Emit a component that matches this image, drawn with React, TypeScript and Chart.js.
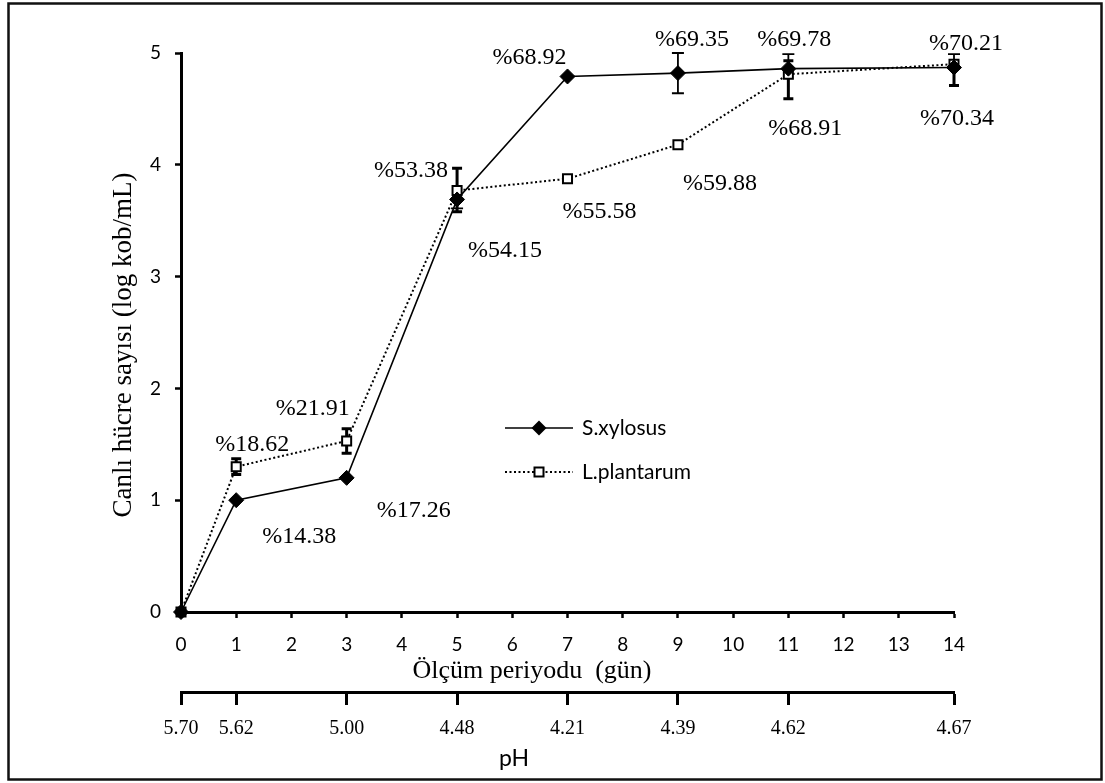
import React, { useEffect, useRef } from "react";
import { Chart, registerables } from "chart.js";

Chart.register(...registerables);

// ---- data ----
const days = [0, 1, 3, 5, 7, 9, 11, 14];
const phValues = ["5.70", "5.62", "5.00", "4.48", "4.21", "4.39", "4.62", "4.67"];

const sXylosus = [0, 1.0, 1.2, 3.69, 4.79, 4.82, 4.86, 4.87];
const lPlantarum = [0, 1.3, 1.53, 3.77, 3.875, 4.18, 4.81, 4.9];

const sXylosusErrPlus = [0, 0, 0, 0, 0, 0.18, 0.13, 0.12];
const sXylosusErrMinus = [0, 0, 0, 0.08, 0, 0.18, 0, 0];
const lPlantarumErrPlus = [0, 0.07, 0.11, 0.2, 0, 0, 0.12, 0];
const lPlantarumErrMinus = [0, 0.07, 0.11, 0.19, 0, 0, 0.22, 0.19];

const sXylosusLabels = ["", "%14.38", "%17.26", "%54.15", "%68.92", "%69.35", "%69.78", "%70.34"];
const lPlantarumLabels = ["", "%18.62", "%21.91", "%53.38", "%55.58", "%59.88", "%68.91", "%70.21"];

const yTicks = [0, 1, 2, 3, 4, 5];

// label offsets (px) from each point, layout only
const sXylosusLabelOffsets: [number, number][] = [
  [0, 0], [63, 37], [67, 33], [48, 51], [-38, -19], [14, -33], [6, -29], [3, 51],
];
const lPlantarumLabelOffsets: [number, number][] = [
  [0, 0], [16, -22], [-34, -32], [-46, -20], [32, 33], [42, 39], [17, 54], [12, -20],
];

const SERIF = "'Liberation Serif', 'Times New Roman', serif";
const SANS = "Lato, 'Noto Sans', sans-serif";

const overlayPlugin = {
  id: "overlay",
  beforeDatasetsDraw(chart: any) {
    const ctx = chart.ctx;
    const xs = chart.scales.x;
    const ys = chart.scales.y;
    const drawErr = (vals: number[], plus: number[], minus: number[], lw: number, cap: number) => {
      ctx.save();
      ctx.strokeStyle = "#000";
      ctx.lineWidth = lw;
      ctx.setLineDash([]);
      days.forEach((d, i) => {
        const px = xs.getPixelForValue(d);
        const py = ys.getPixelForValue(vals[i]);
        if (plus[i] > 0) {
          const pt = ys.getPixelForValue(vals[i] + plus[i]);
          ctx.beginPath();
          ctx.moveTo(px, py);
          ctx.lineTo(px, pt);
          ctx.moveTo(px - cap, pt);
          ctx.lineTo(px + cap, pt);
          ctx.stroke();
        }
        if (minus[i] > 0) {
          const pb = ys.getPixelForValue(vals[i] - minus[i]);
          ctx.beginPath();
          ctx.moveTo(px, py);
          ctx.lineTo(px, pb);
          ctx.moveTo(px - cap, pb);
          ctx.lineTo(px + cap, pb);
          ctx.stroke();
        }
      });
      ctx.restore();
    };
    drawErr(sXylosus, sXylosusErrPlus, sXylosusErrMinus, 1.8, 6);
    drawErr(lPlantarum, lPlantarumErrPlus, lPlantarumErrMinus, 3, 5);
  },
  afterDraw(chart: any) {
    const ctx = chart.ctx;
    const xs = chart.scales.x;
    const ys = chart.scales.y;
    ctx.save();
    // frame
    ctx.strokeStyle = "#111";
    ctx.lineWidth = 2.5;
    ctx.strokeRect(8.5, 3.5, 1093, 776);

    // data labels
    ctx.fillStyle = "#000";
    ctx.font = `24px ${SERIF}`;
    ctx.textAlign = "center";
    ctx.textBaseline = "middle";
    days.forEach((d, i) => {
      const px = xs.getPixelForValue(d);
      if (sXylosusLabels[i]) {
        const py = ys.getPixelForValue(sXylosus[i]);
        const [ox, oy] = sXylosusLabelOffsets[i];
        ctx.fillText(sXylosusLabels[i], px + ox, py + oy);
      }
      if (lPlantarumLabels[i]) {
        const py = ys.getPixelForValue(lPlantarum[i]);
        const [ox, oy] = lPlantarumLabelOffsets[i];
        ctx.fillText(lPlantarumLabels[i], px + ox, py + oy);
      }
    });

    // axis titles
    ctx.font = `26px ${SERIF}`;
    ctx.textBaseline = "alphabetic";
    ctx.fillText("Ölçüm periyodu  (gün)", 532, 678);

    ctx.save();
    ctx.translate(131, 345);
    ctx.rotate(-Math.PI / 2);
    ctx.font = `27px ${SERIF}`;
    ctx.fillText("Canlı hücre sayısı (log kob/mL)", 0, 0);
    ctx.restore();

    ctx.font = `23px ${SANS}`;
    ctx.fillText("pH", 514, 766);

    // legend
    const lx1 = 505, lx2 = 573, mx = 539;
    const ly1 = 428, ly2 = 472;
    ctx.strokeStyle = "#000";
    ctx.lineWidth = 1.5;
    ctx.setLineDash([]);
    ctx.beginPath();
    ctx.moveTo(lx1, ly1);
    ctx.lineTo(lx2, ly1);
    ctx.stroke();
    ctx.beginPath();
    ctx.moveTo(mx, ly1 - 7.5);
    ctx.lineTo(mx + 7.5, ly1);
    ctx.lineTo(mx, ly1 + 7.5);
    ctx.lineTo(mx - 7.5, ly1);
    ctx.closePath();
    ctx.fillStyle = "#000";
    ctx.fill();

    ctx.lineWidth = 2;
    ctx.setLineDash([2, 2.5]);
    ctx.beginPath();
    ctx.moveTo(lx1, ly2);
    ctx.lineTo(lx2, ly2);
    ctx.stroke();
    ctx.setLineDash([]);
    ctx.fillStyle = "#fff";
    ctx.fillRect(mx - 4.5, ly2 - 4.5, 9, 9);
    ctx.strokeRect(mx - 4.5, ly2 - 4.5, 9, 9);

    ctx.fillStyle = "#000";
    ctx.font = `21px ${SANS}`;
    ctx.textAlign = "left";
    ctx.textBaseline = "middle";
    ctx.fillText("S.xylosus", 582, ly1);
    ctx.fillText("L.plantarum", 582, ly2);
    ctx.restore();
  },
};

export default function App() {
  const ref = useRef<HTMLCanvasElement | null>(null);
  useEffect(() => {
    if (!ref.current) return;
    const chart = new Chart(ref.current, {
      type: "line",
      data: {
        datasets: [
          {
            label: "S.xylosus",
            data: days.map((d, i) => ({ x: d, y: sXylosus[i] })),
            borderColor: "#000",
            borderWidth: 1.6,
            pointStyle: "rectRot",
            pointRadius: 7.5,
            pointBackgroundColor: "#000",
            pointBorderColor: "#000",
            pointBorderWidth: 1,
            fill: false,
            tension: 0,
            clip: false,
          },
          {
            label: "L.plantarum",
            data: days.map((d, i) => ({ x: d, y: lPlantarum[i] })),
            borderColor: "#000",
            borderWidth: 2,
            borderDash: [2, 2.5],
            pointStyle: "rect",
            pointRadius: 6.4,
            pointBackgroundColor: "#fff",
            pointBorderColor: "#000",
            pointBorderWidth: 2,
            fill: false,
            tension: 0,
            clip: false,
          },
        ],
      },
      options: {
        animation: false,
        responsive: false,
        maintainAspectRatio: false,
        devicePixelRatio: 1,
        layout: { padding: { left: 0, top: 53, right: 151, bottom: 0 } },
        plugins: { legend: { display: false }, tooltip: { enabled: false } },
        scales: {
          x: {
            type: "linear",
            position: "bottom",
            weight: 0,
            min: 0,
            max: 14,
            ticks: {
              stepSize: 1,
              autoSkip: false,
              maxRotation: 0,
              color: "#000",
              padding: 15,
              font: { family: SANS, size: 19 },
            },
            grid: { drawOnChartArea: false, drawTicks: true, tickLength: 6, tickWidth: 2.5, tickColor: "#000" },
            border: { display: true, color: "#000", width: 3 },
            afterFit: (s: any) => {
              s.height = 80;
            },
          },
          ph: {
            type: "linear",
            position: "bottom",
            weight: 1,
            min: 0,
            max: 14,
            afterBuildTicks: (s: any) => {
              s.ticks = days.map((v) => ({ value: v }));
            },
            ticks: {
              autoSkip: false,
              maxRotation: 0,
              color: "#000",
              padding: 12,
              font: { family: SERIF, size: 20 },
              callback: (v: any) => {
                const i = days.indexOf(Number(v));
                return i >= 0 ? phValues[i] : "";
              },
            },
            grid: { drawOnChartArea: false, drawTicks: true, tickLength: 13, tickWidth: 3, tickColor: "#000" },
            border: { display: true, color: "#000", width: 3 },
            afterFit: (s: any) => {
              s.height = 91;
            },
          },
          y: {
            type: "linear",
            position: "left",
            min: 0,
            max: 5,
            afterBuildTicks: (s: any) => {
              s.ticks = yTicks.map((v) => ({ value: v }));
            },
            ticks: {
              color: "#000",
              padding: 14,
              font: { family: SANS, size: 19 },
            },
            grid: { drawOnChartArea: false, drawTicks: true, tickLength: 6, tickWidth: 2.5, tickColor: "#000" },
            border: { display: true, color: "#000", width: 3 },
            afterFit: (s: any) => {
              s.width = 181;
            },
          },
        },
      },
      plugins: [overlayPlugin],
    } as any);
    return () => chart.destroy();
  }, []);
  return (
    <div style={{ position: "absolute", left: 0, top: 0, width: 1105, height: 783, background: "#fff" }}>
      <canvas ref={ref} width={1105} height={783} style={{ display: "block", width: 1105, height: 783 }} />
    </div>
  );
}
